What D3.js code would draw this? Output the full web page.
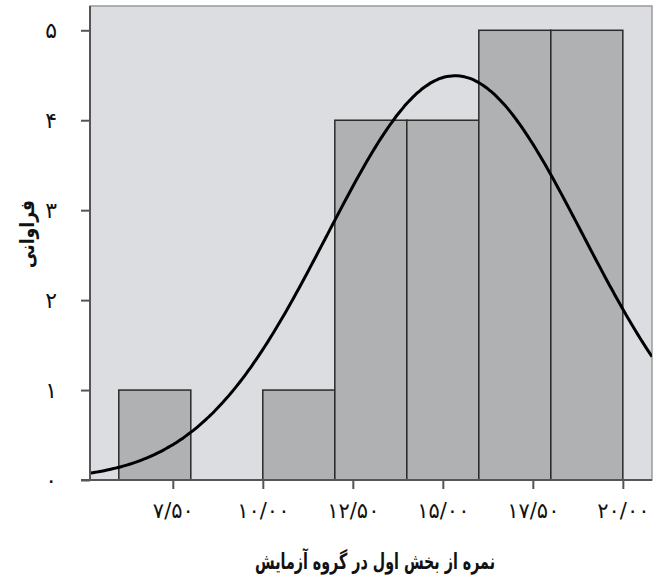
<!DOCTYPE html>
<html>
<head>
<meta charset="utf-8" />
<title>Histogram</title>
<script src="https://cdn.jsdelivr.net/npm/d3@7"></script>
<style>
  body { margin: 0; background: #fff; }
  text { font-family: "DejaVu Sans", sans-serif; fill: #111; }
</style>
</head>
<body>
<script>

// bins (lower, upper) and counts
var binStart = [6, 8, 10, 12, 14, 16, 18];
var binEnd   = [8, 10, 12, 14, 16, 18, 20];
var counts   = [1, 0, 1, 4, 4, 5, 5];

var xTicks = [7.5, 10, 12.5, 15, 17.5, 20];
var xTickLabels = ["۷/۵۰", "۱۰/۰۰", "۱۲/۵۰", "۱۵/۰۰", "۱۷/۵۰", "۲۰/۰۰"];
var yTicks = [0, 1, 2, 3, 4, 5];
var yTickLabels = ["۰", "۱", "۲", "۳", "۴", "۵"];

// normal fit overlay
var fitMean = 15.34;
var fitSd = 3.55;

var width = 661, height = 585;
var pLeft = 90, pRight = 652, pTop = 6, pBottom = 480;

var svg = d3.select("body").append("svg")
    .attr("width", width)
    .attr("height", height);

var x = d3.scaleLinear().domain([5.2, 20.81]).range([pLeft, pRight]);
var y = d3.scaleLinear().domain([0, 5.27]).range([pBottom, pTop]);

// plot background
svg.append("rect")
    .attr("x", pLeft).attr("y", pTop)
    .attr("width", pRight - pLeft).attr("height", pBottom - pTop)
    .attr("fill", "#dcdde0")
    .attr("stroke", "#9a9a9c")
    .attr("stroke-width", 1.5);

svg.append("clipPath").attr("id", "clip")
  .append("rect")
    .attr("x", pLeft).attr("y", pTop)
    .attr("width", pRight - pLeft).attr("height", pBottom - pTop);

// bars
var bins = counts.map(function(c, i){ return { x0: binStart[i], x1: binEnd[i], n: c }; })
    .filter(function(b){ return b.n > 0; });

svg.selectAll("rect.bar")
    .data(bins)
    .enter()
    .append("rect")
    .attr("class", "bar")
    .attr("x", function(d){ return x(d.x0); })
    .attr("y", function(d){ return y(d.n); })
    .attr("width", function(d){ return x(d.x1) - x(d.x0); })
    .attr("height", function(d){ return y(0) - y(d.n); })
    .attr("fill", "#b0b1b3")
    .attr("stroke", "#2a2a2a")
    .attr("stroke-width", 1.5);

// normal curve
var total = d3.sum(counts);
var binW = binEnd[0] - binStart[0];
function density(v) {
  var z = (v - fitMean) / fitSd;
  return total * binW / (fitSd * Math.sqrt(2 * Math.PI)) * Math.exp(-0.5 * z * z);
}
var xs = d3.range(200).map(function(i){ return 5.2 + (20.81 - 5.2) * i / 199; });
svg.append("path")
    .datum(xs)
    .attr("clip-path", "url(#clip)")
    .attr("fill", "none")
    .attr("stroke", "#000")
    .attr("stroke-width", 3)
    .attr("d", d3.line()
        .x(function(d){ return x(d); })
        .y(function(d){ return y(density(d)); })
        .curve(d3.curveBasis));

// y axis
var yAxis = d3.axisLeft(y)
    .tickValues(yTicks)
    .tickSize(9)
    .tickPadding(24)
    .tickFormat(function(d, i){ return yTickLabels[i]; });
var gy = svg.append("g")
    .attr("transform", "translate(" + pLeft + ",0)")
    .call(yAxis);
gy.select(".domain").remove();
gy.append("line")
    .attr("x1", 0).attr("x2", 0)
    .attr("y1", pTop).attr("y2", pBottom)
    .attr("stroke", "#555").attr("stroke-width", 2);
gy.selectAll(".tick line").attr("stroke", "#555").attr("stroke-width", 2);
gy.selectAll(".tick text").attr("font-size", 22);

// x axis
var xAxis = d3.axisBottom(x)
    .tickValues(xTicks)
    .tickSize(9)
    .tickPadding(14)
    .tickFormat(function(d, i){ return xTickLabels[i]; });
var gx = svg.append("g")
    .attr("transform", "translate(0," + pBottom + ")")
    .call(xAxis);
gx.select(".domain").remove();
gx.append("line")
    .attr("x1", pLeft - 9).attr("x2", pRight)
    .attr("y1", 0).attr("y2", 0)
    .attr("stroke", "#555").attr("stroke-width", 2);
gx.selectAll(".tick line").attr("stroke", "#555").attr("stroke-width", 2);
gx.selectAll(".tick text").attr("font-size", 21);

// titles
svg.append("text")
    .attr("x", 375)
    .attr("y", 569)
    .attr("text-anchor", "middle")
    .attr("font-size", 22)
    .attr("font-weight", "bold")
    .attr("textLength", 240)
    .attr("lengthAdjust", "spacingAndGlyphs")
    .text("نمره از بخش اول در گروه آزمایش");

svg.append("text")
    .attr("transform", "translate(34," + 234 + ") rotate(-90)")
    .attr("text-anchor", "middle")
    .attr("font-size", 20)
    .attr("font-weight", "bold")
    .attr("textLength", 68)
    .attr("lengthAdjust", "spacingAndGlyphs")
    .text("فراوانی");

</script>
</body>
</html>
